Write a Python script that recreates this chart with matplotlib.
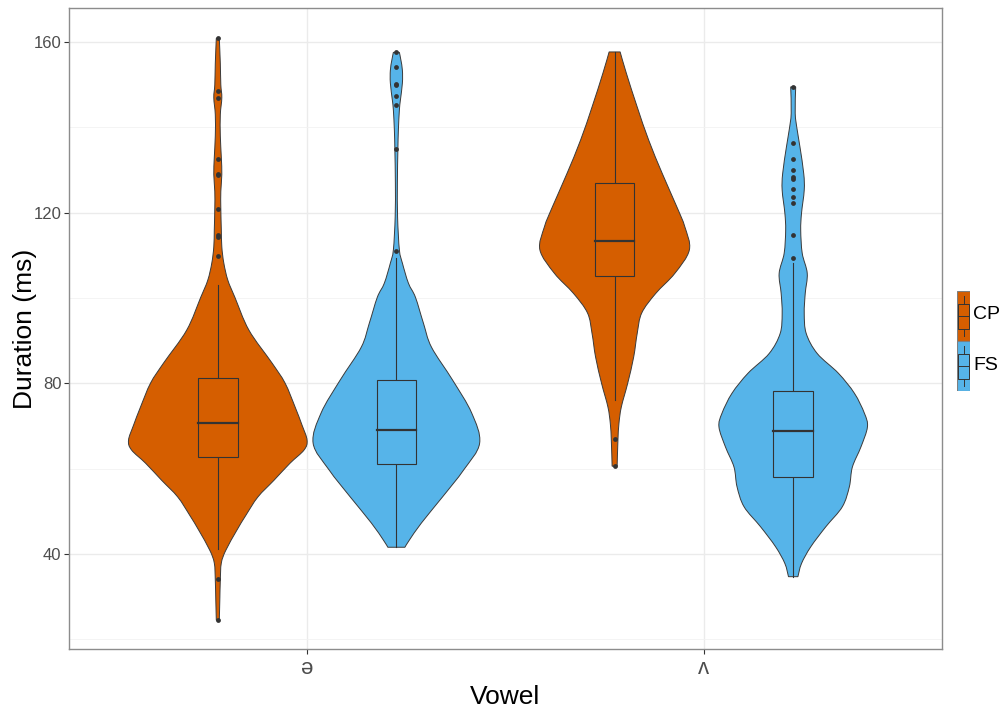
import numpy as np
import matplotlib.pyplot as plt
from matplotlib.patches import Rectangle, PathPatch
from matplotlib.path import Path

plt.rcParams['font.family'] = ['Liberation Sans', 'DejaVu Sans']

vowels = ['ə', 'ʌ']
speakers = ['CP', 'FS']
colours = {'CP': '#D55E00', 'FS': '#56B4E9'}

# violin outlines: duration (ms) and relative density
cp_schwa_y = [160.9, 155, 150, 147, 143, 138, 133, 129, 125, 121, 116, 112, 108.2,
              104.2, 100.2, 92.5, 84.8, 80.1, 74.5, 70.2, 66.7, 64.4, 61.3, 57.3,
              53.4, 49.1, 45.6, 40.9, 37.9, 33.9, 29.2, 24.5]
cp_schwa_d = [1.5, 2.5, 3, 4, 2.5, 2.5, 3.5, 4, 3, 3, 3.5, 4, 6,
              10, 17, 31, 54, 67, 77, 84, 89, 86, 72, 56,
              40, 28, 19, 8, 3.5, 2.5, 2, 1.5]

fs_schwa_y = [157.6, 155.8, 153.4, 150.4, 146.4, 144.1, 139.4, 134.7, 127.0, 119.0,
              111.3, 108.2, 103.5, 100.2, 94.1, 88.5, 80.8, 73.1, 66.0, 59.7,
              53.4, 47.3, 43.3, 41.6]
fs_schwa_d = [3, 4.5, 6, 6, 4, 3, 2, 1.5, 1, 1.2,
              3, 6, 12, 19, 27, 35, 56, 75, 83, 67,
              46, 25, 13, 8.5]

cp_wedge_y = [157.7, 152.7, 144.8, 137.0, 129.2, 121.4, 116.7, 111.3, 105.8, 101.1,
              96.5, 91.7, 86.2, 80.0, 74.5, 70.6, 66.7, 60.6]
cp_wedge_d = [5.5, 11.7, 22.5, 34, 47.5, 62, 70, 74.5, 60, 41,
              27, 22.5, 19, 13, 6.7, 4.3, 3.3, 2.5]

fs_wedge_y = [149.5, 143.3, 139.4, 135.5, 129.2, 125.3, 119.9, 115.9, 110.5, 105.8,
              101.1, 96.4, 91.7, 87.0, 82.4, 77.7, 73.0, 69.8, 65.1, 60.4,
              55.8, 51.1, 46.4, 41.7, 37.8, 34.7]
fs_wedge_d = [2.5, 2, 4, 6.7, 10.5, 11, 8.3, 7.5, 9, 14,
              12, 11, 13, 24, 45, 61, 71, 74, 67.5, 59,
              56, 49, 32.5, 17.5, 8.3, 4.7]

# boxplot stats: lower whisker, q1, median, q3, upper whisker
box_stats = {
    ('ə', 'CP'): [41.3, 62.8, 70.8, 81.2, 103.0],
    ('ə', 'FS'): [41.6, 61.0, 69.1, 80.8, 109.3],
    ('ʌ', 'CP'): [76.1, 105.2, 113.4, 126.9, 157.7],
    ('ʌ', 'FS'): [34.7, 58.0, 68.8, 78.3, 108.3],
}
outliers = {
    ('ə', 'CP'): [161.0, 148.5, 146.9, 132.6, 129.2, 128.8, 121.0, 114.8, 114.3,
                  109.9, 34.1, 24.5],
    ('ə', 'FS'): [157.6, 154.2, 150.3, 150.0, 147.4, 145.2, 134.9, 111.1],
    ('ʌ', 'CP'): [67.0, 60.6],
    ('ʌ', 'FS'): [149.5, 136.4, 132.5, 130.0, 128.4, 128.0, 125.6, 123.6, 122.2,
                  114.8, 109.5],
}
violins = {
    ('ə', 'CP'): (cp_schwa_y, cp_schwa_d),
    ('ə', 'FS'): (fs_schwa_y, fs_schwa_d),
    ('ʌ', 'CP'): (cp_wedge_y, cp_wedge_d),
    ('ʌ', 'FS'): (fs_wedge_y, fs_wedge_d),
}

dodge = 0.225
box_w = 0.1
max_d = max(max(d) for _, d in violins.values())
edge = '#333333'


def smooth_side(pts):
    # bezier segments through the outline points (catmull-rom style handles)
    verts, codes = [], []
    n = len(pts)
    for i in range(n - 1):
        p0 = pts[max(i - 1, 0)]
        p1, p2 = pts[i], pts[i + 1]
        p3 = pts[min(i + 2, n - 1)]
        verts += [p1 + (p2 - p0) / 6, p2 - (p3 - p1) / 6, p2]
        codes += [Path.CURVE4] * 3
    return verts, codes


def violin_patch(xc, ys, hw, colour):
    ys = np.asarray(ys, float)
    right = np.column_stack([xc + hw, ys])
    left = np.column_stack([xc - hw, ys])[::-1]
    verts, codes = [right[0]], [Path.MOVETO]
    v, c = smooth_side(right)
    verts += v
    codes += c
    verts.append(left[0])
    codes.append(Path.LINETO)
    v, c = smooth_side(left)
    verts += v
    codes += c
    verts.append(right[0])
    codes.append(Path.CLOSEPOLY)
    return PathPatch(Path(verts, codes), facecolor=colour, edgecolor='#3a3a3a',
                     lw=0.7, zorder=2)


fig = plt.figure(figsize=(10.07, 7.07), dpi=100)
ax = fig.add_axes([69 / 1007, 58 / 707, 873 / 1007, 641 / 707])

for i, v in enumerate(vowels):
    for j, s in enumerate(speakers):
        xc = i + 1 + (j - 0.5) * 2 * dodge
        ys, ds = violins[(v, s)]
        hw = np.array(ds) / max_d * dodge
        ax.add_patch(violin_patch(xc, ys, hw, colours[s]))
        lo, q1, med, q3, hi = box_stats[(v, s)]
        ax.plot([xc, xc], [lo, q1], color=edge, lw=0.8, zorder=3)
        ax.plot([xc, xc], [q3, hi], color=edge, lw=0.8, zorder=3)
        ax.add_patch(Rectangle((xc - box_w / 2, q1), box_w, q3 - q1,
                               facecolor=colours[s], edgecolor=edge, lw=0.8, zorder=3))
        ax.plot([xc - box_w / 2, xc + box_w / 2], [med, med], color=edge, lw=1.6,
                zorder=4)
        out = outliers[(v, s)]
        ax.scatter([xc] * len(out), out, s=12, color='#333333', zorder=5, lw=0)

ax.set_xlim(0.4, 2.6)
ax.set_ylim(17.75, 168.0)
ax.set_xticks([1, 2])
ax.set_xticklabels(vowels, fontsize=16, color='#4d4d4d')
ax.set_yticks([40, 80, 120, 160])
ax.set_yticks([20, 60, 100, 140], minor=True)
ax.tick_params(axis='y', which='major', labelsize=12, labelcolor='#4d4d4d',
               color='#333333', length=3.5, width=0.8, pad=2)
ax.tick_params(axis='x', which='major', color='#333333', length=3.5, width=0.8, pad=3)
ax.tick_params(which='minor', length=0)
ax.grid(True, which='major', color='#ebebeb', lw=1.0, zorder=0)
ax.grid(True, which='minor', axis='y', color='#f2f2f2', lw=0.6, zorder=0)
ax.set_axisbelow(True)
for sp in ax.spines.values():
    sp.set_color('#8c8c8c')
    sp.set_linewidth(1.0)

ax.set_xlabel('Vowel', fontsize=19, labelpad=4)
ax.set_ylabel('Duration (ms)', fontsize=19)
ax.yaxis.set_label_coords(-0.037, 0.5)

# legend keys drawn as little boxplot glyphs
lax = fig.add_axes([957 / 1007, (707 - 391) / 707, 13 / 1007, 100 / 707])
lax.set_xlim(0, 1)
lax.set_ylim(0, 2)
lax.axis('off')
for k, s in enumerate(speakers):
    y0 = 1 - k
    lax.add_patch(Rectangle((0, y0), 1, 1, facecolor=colours[s], edgecolor='#7f7f7f',
                            lw=0.8))
    lax.add_patch(Rectangle((0.08, y0 + 0.25), 0.84, 0.5, facecolor=colours[s],
                            edgecolor=edge, lw=0.7))
    lax.plot([0.08, 0.92], [y0 + 0.5, y0 + 0.5], color=edge, lw=0.7)
    lax.plot([0.5, 0.5], [y0 + 0.1, y0 + 0.25], color=edge, lw=0.7)
    lax.plot([0.5, 0.5], [y0 + 0.75, y0 + 0.9], color=edge, lw=0.7)
    fig.text(973 / 1007, (707 - (315 + 50 * k)) / 707, s, fontsize=14,
             va='center', ha='left')

fig.savefig('out.png', dpi=100, facecolor='white')
